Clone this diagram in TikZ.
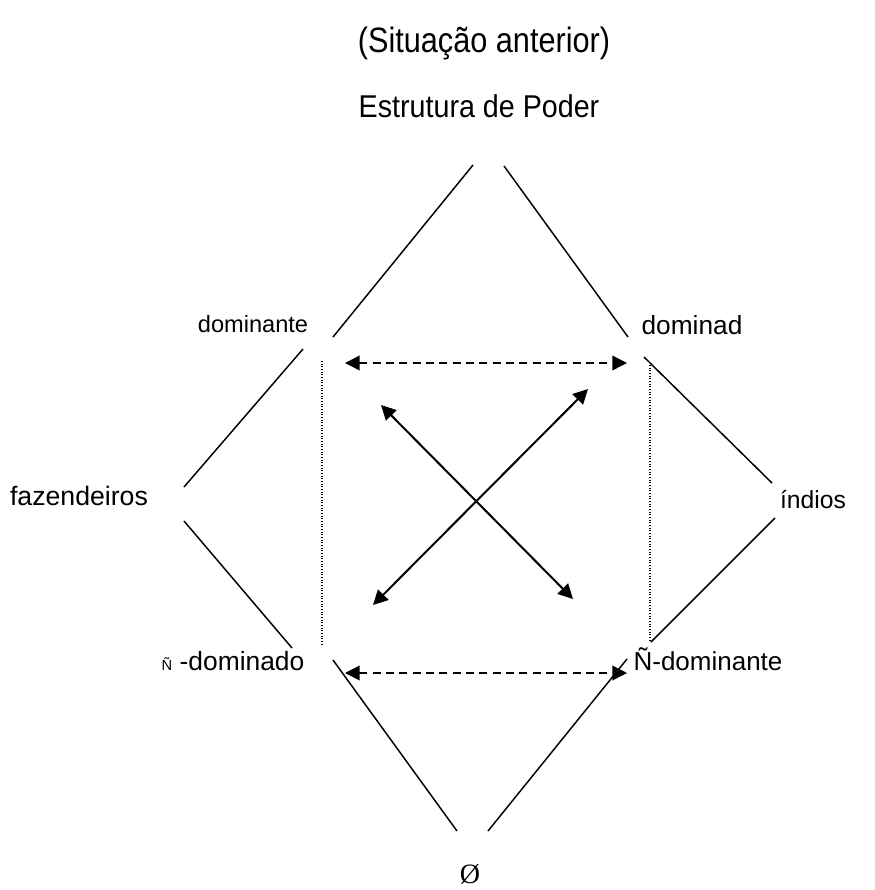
\documentclass[tikz,border=0pt]{standalone}
\usepackage{fontspec}
\usepackage{graphicx}
\setmainfont{Liberation Sans}
\newfontfamily\serifface{Liberation Serif}
\usetikzlibrary{arrows.meta}
\begin{document}
\begin{tikzpicture}[x=0.75pt,y=-0.75pt,
  lbl/.style={inner sep=0pt,anchor=base},
  edge/.style={line width=1.1pt},
  cross/.style={line width=1.5pt,{Triangle[length=11pt,width=11pt]}-{Triangle[length=11pt,width=11pt]}},
  link/.style={line width=1.1pt,dash pattern=on 6pt off 4pt,{Triangle[length=11pt,width=11pt]}-{Triangle[length=11pt,width=11pt]}},
  guide/.style={line width=0.8pt,dash pattern=on 0.8pt off 1.2pt}]
\useasboundingbox (0,0) rectangle (875,890);

% titles
\node[lbl,font=\fontsize{23}{27}\selectfont] (title) at (484,52) {\scalebox{1}[1.15]{(Situação anterior)}};
\node[lbl,font=\fontsize{21.5}{25}\selectfont] (estr) at (479,117) {\scalebox{1}[1.1]{Estrutura de Poder}};

% corner labels
\node[lbl,font=\fontsize{17.7}{21}\selectfont] (dom1) at (253,332) {dominante};
\node[lbl,font=\fontsize{19.7}{23}\selectfont] (dom2) at (692,334) {dominad};
\node[lbl,font=\fontsize{20}{24}\selectfont] (faz) at (79,505) {fazendeiros};
\node[lbl,font=\fontsize{18.5}{22}\selectfont] (ind) at (813,508) {índios};
\node[lbl,font=\fontsize{11}{13}\selectfont] (ntil) at (167,670) {Ñ};
\node[lbl,font=\fontsize{19.8}{23}\selectfont] (ndom) at (242,670) {-dominado};
\node[lbl,font=\fontsize{19.5}{23}\selectfont] (nden) at (708,670) {Ñ-dominante};
\node[lbl,font=\serifface\fontsize{21}{25}\selectfont] (empty) at (470,883) {Ø};

% outline segments
\coordinate (t1) at (473,165); \coordinate (t2) at (333,337);
\coordinate (t3) at (504,166); \coordinate (t4) at (628,337);
\coordinate (l1) at (303,349); \coordinate (l2) at (184,487);
\coordinate (l3) at (184,521); \coordinate (l4) at (292,648);
\coordinate (r1) at (644,357); \coordinate (r2) at (772,483);
\coordinate (r3) at (775,518); \coordinate (r4) at (651,642);
\coordinate (b1) at (333,660); \coordinate (b2) at (457,831);
\coordinate (b3) at (627,659); \coordinate (b4) at (488,831);
\draw[edge] (t1) -- (t2);
\draw[edge] (t3) -- (t4);
\draw[edge] (l1) -- (l2);
\draw[edge] (l3) -- (l4);
\draw[edge] (r1) -- (r2);
\draw[edge] (r3) -- (r4);
\draw[edge] (b1) -- (b2);
\draw[edge] (b3) -- (b4);

% dotted verticals
\coordinate (vl1) at (322,361); \coordinate (vl2) at (322,645);
\coordinate (vr1) at (650,365); \coordinate (vr2) at (650,642);
\draw[guide] (vl1) -- (vl2);
\draw[guide] (vr1) -- (vr2);

% dashed horizontal links
\coordinate (h1) at (345,363); \coordinate (h2) at (627,363);
\coordinate (h3) at (345,673); \coordinate (h4) at (627,673);
\draw[link] (h1) -- (h2);
\draw[link] (h3) -- (h4);

% crossing arrows
\coordinate (d1) at (381,405); \coordinate (d2) at (573,599);
\coordinate (d3) at (373,605); \coordinate (d4) at (588,389);
\draw[cross] (d1) -- (d2);
\draw[cross] (d3) -- (d4);
\end{tikzpicture}
\end{document}
